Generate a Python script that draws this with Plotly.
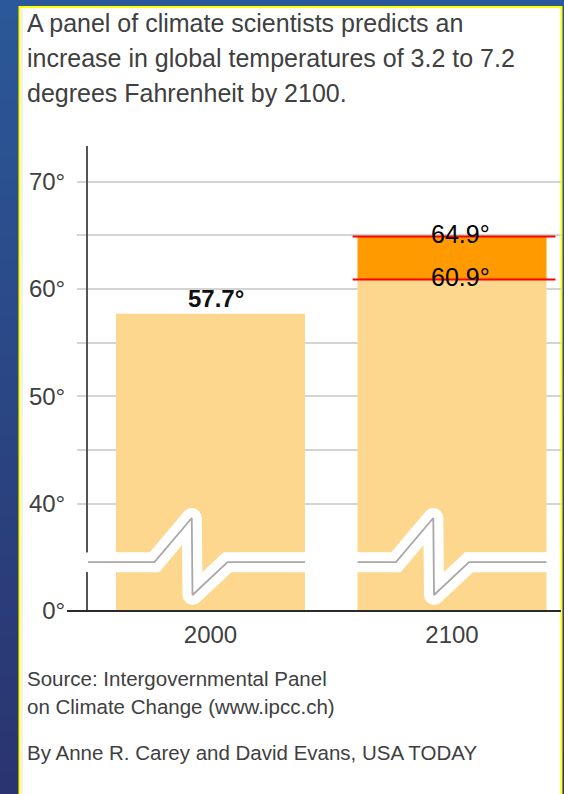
import plotly.graph_objects as go

# ---- data -------------------------------------------------------------
years = ["2000", "2100"]
base_temps = [57.7, 60.9]          # °F, 2000 observed / 2100 low estimate
high_2100 = 64.9                   # °F, 2100 high estimate
axis_floor = 30                    # the scale is broken: this level is shown as 0°
tick_vals = [30, 40, 45, 50, 55, 60, 65, 70]
tick_text = ["0°", "40°", "", "50°", "", "60°", "", "70°"]
title_lines = [
    "A panel of climate scientists predicts an",
    "increase in global temperatures of 3.2 to 7.2",
    "degrees Fahrenheit by 2100.",
]
credit_lines = [
    "Source: Intergovernmental Panel",
    "on Climate Change (www.ipcc.ch)",
    "By Anne R. Carey and David Evans, USA TODAY",
]

# ---- page geometry ----------------------------------------------------
W, H = 564, 794
ML, MR, MT, MB = 88, 3, 146, 183
PW, PH = W - ML - MR, H - MT - MB
X_RANGE = [-0.5072, 1.4513]
Y_RANGE = [axis_floor, 73.33]
BAR_W = 0.7826

FONT = "Liberation Sans, Arial, sans-serif"
LIGHT = "#fdd78e"
ORANGE = "#ff9a00"
GRID = "#d4d4d4"
TEXT = "#404040"


def xp(px):
    """page pixel -> paper x"""
    return (px - ML) / PW


def yp(py):
    """page pixel -> paper y"""
    return (H - MB - py) / PH


fig = go.Figure()

# bars: light base bars, orange range segment on top of 2100
xs = list(range(len(years)))
fig.add_trace(go.Bar(x=xs, y=base_temps, width=BAR_W, marker=dict(color=LIGHT, line=dict(width=0))))
fig.add_trace(go.Bar(x=[xs[1]], y=[high_2100 - base_temps[1]], base=[base_temps[1]], width=BAR_W,
                     marker=dict(color=ORANGE, line=dict(width=0))))

# axis-break zigzag across each bar
brk_level, brk_peak, brk_low = 34.55, 38.67, 31.49
for i in xs:
    left = X_RANGE[0] if i == 0 else i - BAR_W / 2
    right = i + BAR_W / 2
    bx = [left, i - 0.232, i - 0.0775, i - 0.0745, i + 0.0704, right]
    by = [brk_level, brk_level, brk_peak, brk_low, brk_level, brk_level]
    fig.add_trace(go.Scatter(x=bx, y=by, mode="lines+markers", cliponaxis=False,
                             line=dict(color="white", width=20),
                             marker=dict(color="white", size=20, line=dict(width=0))))
    fig.add_trace(go.Scatter(x=bx, y=by, mode="lines", cliponaxis=False,
                             line=dict(color="#a8a8a8", width=1.8)))

shapes = []
# blue backdrop with a vertical gradient
top_c, bot_c = (43, 88, 152), (42, 52, 112)
n = 40
for k in range(n):
    t = k / (n - 1)
    c = tuple(round(a + (b - a) * t) for a, b in zip(top_c, bot_c))
    shapes.append(dict(type="rect", xref="paper", yref="paper", layer="below",
                       x0=xp(0), x1=xp(W), y0=yp(H * k / n), y1=yp(H * (k + 1) / n + 1),
                       fillcolor="rgb(%d,%d,%d)" % c, line=dict(width=0)))
# white panel with yellow rule
shapes.append(dict(type="rect", xref="paper", yref="paper", layer="below",
                   x0=xp(19.5), x1=xp(561.5), y0=yp(H + 10), y1=yp(7),
                   fillcolor="white", line=dict(color="#ffff00", width=2)))
shapes.append(dict(type="line", xref="paper", yref="paper", layer="below",
                   x0=xp(22), x1=xp(22), y0=yp(9), y1=yp(H + 5),
                   line=dict(color="#e2e2e2", width=1)))
# baseline
shapes.append(dict(type="line", xref="paper", yref="paper", layer="above",
                   x0=xp(67), x1=xp(561), y0=0, y1=0,
                   line=dict(color="#2a2a2a", width=2)))
# red marker lines for the 2100 range
for v in (base_temps[1], high_2100):
    shapes.append(dict(type="line", xref="x", yref="y", layer="above",
                       x0=xs[1] - BAR_W / 2 - 0.02, x1=xs[1] + BAR_W / 2 + 0.037, y0=v, y1=v,
                       line=dict(color="#ff0000", width=2)))

annotations = []
for line, cy in zip(title_lines, [23, 58, 93]):
    annotations.append(dict(text=line, xref="paper", yref="paper", x=xp(25), y=yp(cy),
                            xanchor="left", yanchor="middle", showarrow=False,
                            font=dict(family=FONT, size=25, color=TEXT)))
for line, cy in zip(credit_lines, [678, 706, 752]):
    annotations.append(dict(text=line, xref="paper", yref="paper", x=xp(25), y=yp(cy),
                            xanchor="left", yanchor="middle", showarrow=False,
                            font=dict(family=FONT, size=20.5, color=TEXT)))
# value labels
annotations.append(dict(text="<b>%.1f°</b>" % base_temps[0], x=xs[0], y=base_temps[0], xref="x", yref="y",
                        xanchor="center", yanchor="bottom", xshift=6, yshift=0, showarrow=False,
                        font=dict(family=FONT, size=24, color="#111111")))
for v in (high_2100, base_temps[1]):
    annotations.append(dict(text="%.1f°" % v, x=xs[1], y=v, xref="x", yref="y",
                            xanchor="center", yanchor="middle", xshift=8, yshift=2, showarrow=False,
                            font=dict(family=FONT, size=25, color="#000000")))

fig.update_layout(
    width=W, height=H,
    margin=dict(l=ML, r=MR, t=MT, b=MB, autoexpand=False),
    paper_bgcolor="rgb(43,70,130)",
    plot_bgcolor="rgba(0,0,0,0)",
    barmode="overlay",
    showlegend=False,
    hovermode=False,
    shapes=shapes,
    annotations=annotations,
    xaxis=dict(range=X_RANGE, tickmode="array", tickvals=xs, ticktext=years,
               showgrid=False, zeroline=False, showline=False, ticks="",
               ticklabelstandoff=7, layer="below traces",
               tickfont=dict(family=FONT, size=24, color=TEXT)),
    yaxis=dict(range=Y_RANGE, tickmode="array", tickvals=tick_vals, ticktext=tick_text,
               showgrid=True, gridcolor=GRID, gridwidth=2, zeroline=False,
               ticks="outside", ticklen=9, tickcolor=GRID, tickwidth=2,
               showline=True, linecolor="#555555", linewidth=2,
               ticklabelstandoff=7, layer="below traces", automargin=False,
               tickfont=dict(family=FONT, size=24, color=TEXT)),
)

fig.write_html("out.html")
